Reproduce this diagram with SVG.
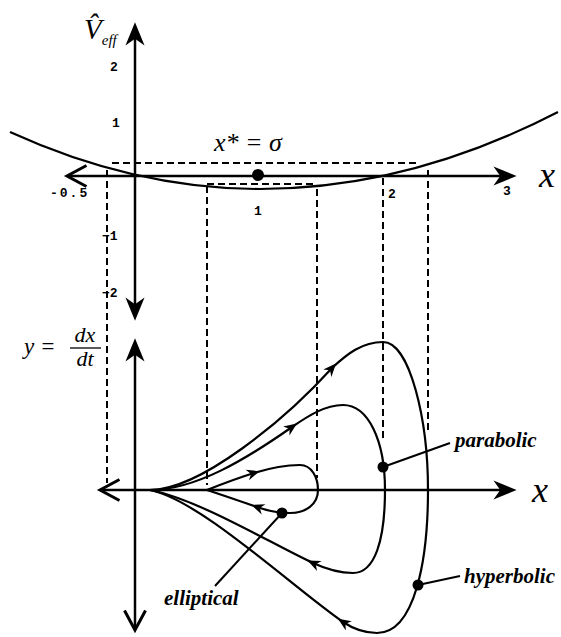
<svg xmlns="http://www.w3.org/2000/svg" width="561" height="637" viewBox="0 0 561 637">
<style>
.ax{stroke:#000;stroke-width:2.5;fill:none}
.cv{stroke:#000;stroke-width:2.2;fill:none;stroke-linejoin:round}
.dash{stroke:#000;stroke-width:2;fill:none;stroke-dasharray:7 4}
.lead{stroke:#000;stroke-width:2;fill:none}
.tick{font-family:"Liberation Mono",monospace;font-weight:bold;font-size:13px;fill:#000}
.math{font-family:"Liberation Serif",serif;font-style:italic;fill:#000}
.lab{font-family:"Liberation Serif",serif;font-style:italic;font-weight:bold;font-size:21px;fill:#000}
</style>
<defs>
<marker id="axF" markerUnits="userSpaceOnUse" markerWidth="30" markerHeight="30" refX="0" refY="0" viewBox="-10 -10 22 20" orient="auto" overflow="visible">
<path d="M10,0 L-7,-7 L-2,0 L-7,7 Z" fill="#000"/>
</marker>
<marker id="axO" markerUnits="userSpaceOnUse" markerWidth="30" markerHeight="30" refX="0" refY="0" viewBox="-15 -10 20 20" orient="auto" overflow="visible">
<path d="M-13,-7 L0,0 L-13,7" fill="none" stroke="#000" stroke-width="2"/>
</marker>
<marker id="cA" markerUnits="userSpaceOnUse" markerWidth="20" markerHeight="20" refX="0" refY="0" viewBox="-10 -10 20 20" orient="auto" overflow="visible">
<path d="M6,0 L-7,-5.5 L-3,0 L-7,5.5 Z" fill="#000"/>
</marker>
</defs>

<g id="potential-plot">
<g id="dashes">
<line class="dash" x1="112" y1="163" x2="418" y2="163"/>
<line class="dash" x1="207" y1="184" x2="317" y2="184"/>
<line class="dash" x1="107" y1="170" x2="107" y2="483"/>
<line class="dash" x1="207" y1="186" x2="207" y2="485"/>
<line class="dash" x1="317" y1="189" x2="317" y2="478"/>
<line class="dash" x1="383" y1="178" x2="383" y2="438"/>
<line class="dash" x1="428" y1="170" x2="428" y2="432"/>
</g>
<g id="top-axes">
<line class="ax" x1="135" y1="176" x2="135" y2="36" marker-end="url(#axF)"/>
<line class="ax" x1="135" y1="176" x2="135" y2="307" marker-end="url(#axF)"/>
<line class="ax" x1="135" y1="176" x2="503" y2="176" marker-end="url(#axF)"/>
<line class="ax" x1="135" y1="176" x2="67" y2="176" marker-end="url(#axO)"/>
</g>
<path id="veff" class="cv" d="M10,132 Q135,189 260,189 Q409,189 558,112"/>
<circle id="xstar" cx="258" cy="175" r="6" fill="#000"/>
<g id="top-labels">
<text class="math" x="84" y="39" font-size="29">V̂<tspan font-size="15" dy="6">eff</tspan></text>
<text class="tick" x="114" y="71" text-anchor="middle">2</text>
<text class="tick" x="116" y="127" text-anchor="middle">1</text>
<text class="tick" x="50" y="197" letter-spacing="2">-0.5</text>
<text class="tick" x="258" y="215" text-anchor="middle">1</text>
<text class="tick" x="392" y="198" text-anchor="middle">2</text>
<text class="tick" x="507" y="195" text-anchor="middle">3</text>
<text class="tick" x="102" y="240">−1</text>
<text class="tick" x="102" y="297">−2</text>
<text class="math" x="214" y="151" font-size="26">x* = σ</text>
<text class="math" x="539" y="187" font-size="36">x</text>
</g>
</g>

<g id="phase-plot">
<g id="bottom-axes">
<line class="ax" x1="135" y1="490" x2="135" y2="352" marker-end="url(#axF)"/>
<line class="ax" x1="135" y1="490" x2="135" y2="630" marker-end="url(#axO)"/>
<line class="ax" x1="135" y1="490" x2="503" y2="490" marker-end="url(#axF)"/>
<line class="ax" x1="135" y1="490" x2="100" y2="490" marker-end="url(#axO)"/>
</g>
<g id="connectors">
<g id="hyperbolic-orbit">
<path class="cv" d="M150,490 C200,490 285,420 332,368" marker-end="url(#cA)"/>
<path class="cv" d="M332,368 C347,354 362,342 383,342 C410,342 428,420 428,490 C428,560 415,633 377,633 C362,633 352,628 343,622" marker-end="url(#cA)"/>
<path class="cv" d="M343,622 C290,585 200,500 150,490"/>
</g>
<g id="parabolic-orbit">
<path class="cv" d="M150,490 C195,490 245,460 292,427" marker-end="url(#cA)"/>
<path class="cv" d="M292,427 C308,416 325,405 343,405 C368,405 385,440 385,490 C385,540 375,573 353,573 C340,573 326,569 313,563" marker-end="url(#cA)"/>
<path class="cv" d="M313,563 C270,543 200,500 150,490"/>
</g>
<g id="elliptical-orbit">
<path class="cv" d="M207,490 C222,484 238,478 254,473" marker-end="url(#cA)"/>
<path class="cv" d="M254,473 C270,468 285,465 300,465 C312,465 318,478 318,490 C318,505 305,513 290,513 C280,513 268,511 257,507" marker-end="url(#cA)"/>
<path class="cv" d="M257,507 C240,501 222,495 207,490"/>
</g>
<line class="lead" x1="383" y1="467" x2="450" y2="443"/>
<line class="lead" x1="418" y1="585" x2="460" y2="576"/>
<line class="lead" x1="282" y1="513" x2="215" y2="586"/>
</g>
<g id="dot-parabolic"><circle cx="383" cy="467" r="5.5" fill="#000"/><text class="lab" x="455" y="447">parabolic</text></g>
<g id="dot-hyperbolic"><circle cx="418" cy="585" r="5.5" fill="#000"/><text class="lab" x="464" y="583">hyperbolic</text></g>
<g id="dot-elliptical"><circle cx="282" cy="513" r="5.5" fill="#000"/><text class="lab" x="164" y="605">elliptical</text></g>
<g id="bottom-labels">
<text class="math" x="532" y="502" font-size="36">x</text>
<text class="math" x="24" y="354" font-size="23">y =</text>
<text class="math" x="85" y="342" font-size="22" text-anchor="middle">dx</text>
<line x1="70" y1="348" x2="101" y2="348" stroke="#000" stroke-width="1.3"/>
<text class="math" x="85" y="366" font-size="22" text-anchor="middle">dt</text>
</g>
</g>
</svg>
